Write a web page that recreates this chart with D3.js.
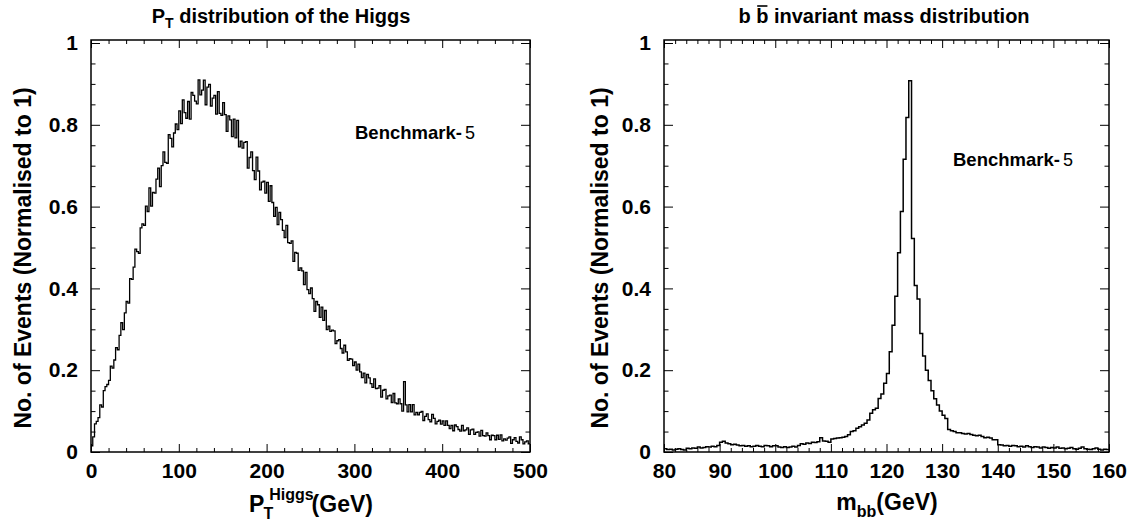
<!DOCTYPE html>
<html><head><meta charset="utf-8">
<script src="https://cdn.jsdelivr.net/npm/d3@7"></script>
<style>
body{margin:0;background:#fff;}
svg{font-family:"Liberation Sans",Arial,Helvetica,sans-serif;font-weight:bold;}
</style></head><body>
<svg id="c" width="1133" height="527"></svg>
<script>
// ---------- data ----------
const ptRange = [0, 500];
const ptValues = [
0.015,0.037,0.069,0.075,0.084,0.115,0.11,0.15,0.16,0.165,
0.175,0.21,0.205,0.225,0.255,0.25,0.285,0.316,0.299,0.34,
0.368,0.364,0.424,0.422,0.452,0.496,0.49,0.486,0.548,0.558,
0.554,0.601,0.588,0.646,0.601,0.635,0.633,0.667,0.694,0.649,
0.70,0.734,0.708,0.706,0.776,0.767,0.746,0.78,0.802,0.788,
0.834,0.803,0.861,0.83,0.816,0.857,0.814,0.879,0.872,0.858,
0.851,0.91,0.873,0.885,0.909,0.849,0.892,0.899,0.846,0.865,
0.872,0.826,0.881,0.828,0.823,0.854,0.825,0.784,0.822,0.812,
0.771,0.814,0.768,0.811,0.746,0.76,0.743,0.757,0.759,0.694,
0.72,0.734,0.688,0.666,0.721,0.687,0.641,0.66,0.662,0.633,
0.659,0.613,0.651,0.61,0.576,0.598,0.556,0.586,0.568,0.542,
0.524,0.554,0.512,0.51,0.516,0.466,0.488,0.486,0.444,0.45,
0.443,0.409,0.439,0.397,0.387,0.401,0.375,0.344,0.368,0.36,
0.329,0.354,0.322,0.346,0.299,0.308,0.295,0.298,0.296,0.265,
0.272,0.275,0.253,0.242,0.261,0.245,0.224,0.228,0.227,0.211,
0.22,0.20,0.215,0.196,0.182,0.193,0.169,0.19,0.181,0.167,
0.158,0.179,0.155,0.156,0.162,0.134,0.151,0.153,0.13,0.137,
0.139,0.121,0.143,0.12,0.118,0.13,0.118,0.10,0.172,0.115,
0.098,0.116,0.098,0.116,0.091,0.097,0.091,0.097,0.099,0.077,
0.087,0.093,0.079,0.074,0.092,0.082,0.069,0.075,0.078,0.068,
0.076,0.065,0.076,0.065,0.057,0.065,0.052,0.066,0.062,0.055,
0.051,0.065,0.052,0.054,0.059,0.043,0.054,0.056,0.043,0.048,
0.049,0.039,0.053,0.04,0.039,0.047,0.04,0.03,0.041,0.04,
0.03,0.041,0.031,0.042,0.027,0.032,0.029,0.034,0.037,0.021,
0.03,0.035,0.026,0.022,0.037,0.03,0.02,0.025,0.027,0.02
];
const mbbRange = [80, 160];
const mbbValues = [
0.008,0.006,0.007,0.005,0.007,0.008,0.006,0.005,0.009,0.008,
0.01,0.009,0.012,0.01,0.011,0.013,0.012,0.014,0.013,0.016,
0.024,0.026,0.022,0.02,0.018,0.019,0.017,0.015,0.016,0.014,
0.015,0.013,0.014,0.016,0.014,0.013,0.016,0.015,0.013,0.015,
0.015,0.012,0.011,0.013,0.011,0.012,0.014,0.012,0.016,0.02,
0.019,0.022,0.021,0.024,0.023,0.025,0.035,0.027,0.026,0.024,
0.032,0.033,0.034,0.035,0.036,0.038,0.042,0.05,0.052,0.058,
0.062,0.066,0.07,0.078,0.095,0.103,0.107,0.131,0.142,0.168,
0.192,0.245,0.31,0.381,0.487,0.588,0.716,0.818,0.908,0.522,
0.407,0.374,0.29,0.235,0.2,0.175,0.15,0.13,0.115,0.1,
0.09,0.082,0.055,0.052,0.05,0.047,0.047,0.045,0.044,0.045,
0.043,0.041,0.04,0.041,0.038,0.035,0.036,0.034,0.03,0.03,
0.018,0.017,0.015,0.016,0.014,0.016,0.015,0.013,0.014,0.012,
0.015,0.013,0.011,0.013,0.012,0.01,0.012,0.011,0.009,0.011,
0.01,0.012,0.009,0.01,0.008,0.009,0.011,0.008,0.007,0.009,
0.012,0.008,0.007,0.006,0.008,0.01,0.007,0.005,0.007,0.006
];
const ptTicks = [0, 100, 200, 300, 400, 500];
const ptTickLabels = ["0", "100", "200", "300", "400", "500"];
const mbbTicks = [80, 90, 100, 110, 120, 130, 140, 150, 160];
const mbbTickLabels = ["80", "90", "100", "110", "120", "130", "140", "150", "160"];
const yTicks = [0, 0.2, 0.4, 0.6, 0.8, 1];
const yTickLabels = ["0", "0.2", "0.4", "0.6", "0.8", "1"];
const yTitle = "No. of Events (Normalised to 1)";
const benchText = "Benchmark-";
const benchNum = "5";

// ---------- drawing ----------
const svg = d3.select("#c");
const Y0 = 452, Y1 = 43, YTOP = 40;

function minorTicks(lo, hi, step, major) {
  return d3.range(lo, hi + step / 2, step).filter(v => Math.abs(v / major - Math.round(v / major)) > 1e-6);
}

function panel(o) {
  const g = svg.append("g");
  const x = d3.scaleLinear().domain(o.range).range([o.left, o.right]);
  const y = d3.scaleLinear().domain([0, 1]).range([Y0, Y1]);
  const style = sel => { sel.select(".domain").remove(); sel.selectAll("line").attr("stroke", "#000").attr("stroke-width", 1); };
  const lab = sel => sel.selectAll("text").attr("font-size", 21).attr("font-weight", "bold")
      .attr("font-family", '"Liberation Sans",Arial,sans-serif').attr("fill", "#000");

  const xMinor = minorTicks(o.range[0], o.range[1], o.minorStep, o.majorStep);
  const yMinor = minorTicks(0, 1, 0.05, 0.2);

  g.append("g").attr("transform", `translate(0,${Y0})`)
    .call(d3.axisBottom(x).tickValues(o.ticks).tickSize(-8).tickPadding(11).tickFormat((d, i) => o.labels[i]))
    .call(style).call(lab);
  g.append("g").attr("transform", `translate(0,${Y0})`)
    .call(d3.axisBottom(x).tickValues(xMinor).tickSize(-4).tickFormat("")).call(style);
  g.append("g").attr("transform", `translate(0,${YTOP})`)
    .call(d3.axisTop(x).tickValues(o.ticks).tickSize(-8).tickFormat("")).call(style);
  g.append("g").attr("transform", `translate(0,${YTOP})`)
    .call(d3.axisTop(x).tickValues(xMinor).tickSize(-4).tickFormat("")).call(style);

  g.append("g").attr("transform", `translate(${o.left},0)`)
    .call(d3.axisLeft(y).tickValues(yTicks).tickSize(-9).tickPadding(13).tickFormat((d, i) => yTickLabels[i]))
    .call(style).call(lab);
  g.append("g").attr("transform", `translate(${o.left},0)`)
    .call(d3.axisLeft(y).tickValues(yMinor).tickSize(-4.5).tickFormat("")).call(style);
  g.append("g").attr("transform", `translate(${o.right},0)`)
    .call(d3.axisRight(y).tickValues(yTicks).tickSize(-9).tickFormat("")).call(style);
  g.append("g").attr("transform", `translate(${o.right},0)`)
    .call(d3.axisRight(y).tickValues(yMinor).tickSize(-4.5).tickFormat("")).call(style);

  // histogram
  const n = o.values.length;
  const w = (o.range[1] - o.range[0]) / n;
  const pts = o.values.map((v, i) => [o.range[0] + i * w, v]);
  pts.push([o.range[1], o.values[n - 1]]);
  const line = d3.line().x(d => x(d[0])).y(d => y(d[1])).curve(d3.curveStepAfter);
  g.append("path").attr("d", line(pts)).attr("fill", "none").attr("stroke", "#000")
    .attr("stroke-width", o.lw).attr("stroke-linejoin", "miter");

  // frame
  g.append("rect").attr("x", o.left).attr("y", YTOP).attr("width", o.right - o.left).attr("height", Y0 - YTOP)
    .attr("fill", "none").attr("stroke", "#000").attr("stroke-width", 1.5);

  // y title
  g.append("text").attr("transform", `translate(${o.yTitleX},258) rotate(-90)`)
    .attr("text-anchor", "middle").attr("font-size", 23).text(yTitle);

  // benchmark label
  const b = g.append("text").attr("x", o.benchX).attr("y", o.benchY).attr("font-size", 18.5);
  b.append("tspan").text(benchText);
  b.append("tspan").attr("font-weight", "normal").attr("dx", 3).attr("font-size", 18).text(benchNum);
  return g;
}

function rich(parent, cx, y, parts) {
  const t = parent.append("text").attr("x", 0).attr("y", y);
  parts.forEach(p => {
    const s = t.append("tspan").text(p.text).attr("font-size", p.size);
    if (p.dy) s.attr("dy", p.dy);
    if (p.dx) s.attr("dx", p.dx);
  });
  const bb = t.node().getBBox();
  t.attr("x", cx - bb.width / 2 - bb.x);
  return t;
}

panel({range: ptRange, values: ptValues, left: 91, right: 530, ticks: ptTicks, labels: ptTickLabels,
  majorStep: 100, minorStep: 20, yTitleX: 31, benchX: 355, benchY: 139, lw: 1.3});
panel({range: mbbRange, values: mbbValues, left: 664, right: 1109, ticks: mbbTicks, labels: mbbTickLabels,
  majorStep: 10, minorStep: 2, yTitleX: 608, benchX: 953, benchY: 166, lw: 1.5});

// titles
rich(svg, 281, 23, [{text: "P", size: 20}, {text: "T", size: 14, dy: 5}, {text: " distribution of the Higgs", size: 20, dy: -5}]);
const rt = rich(svg, 884, 23, [{text: "b b invariant mass distribution", size: 20}]);
{
  const node = rt.node();
  const s = node.getStartPositionOfChar(2), e = node.getEndPositionOfChar(2);
  svg.append("line").attr("x1", s.x + 1).attr("x2", e.x - 1).attr("y1", 23 - 17).attr("y2", 23 - 17)
    .attr("stroke", "#000").attr("stroke-width", 1.6);
}
// x titles
rich(svg, 311, 512, [{text: "P", size: 23}, {text: "T", size: 16, dy: 7, dx: -1},
  {text: "Higgs", size: 16, dy: -19, dx: -4}, {text: "(GeV)", size: 23, dy: 12, dx: -2}]);
rich(svg, 887, 510, [{text: "m", size: 23}, {text: "bb", size: 16, dy: 7}, {text: "(GeV)", size: 23, dy: -7}]);
</script>
</body></html>
